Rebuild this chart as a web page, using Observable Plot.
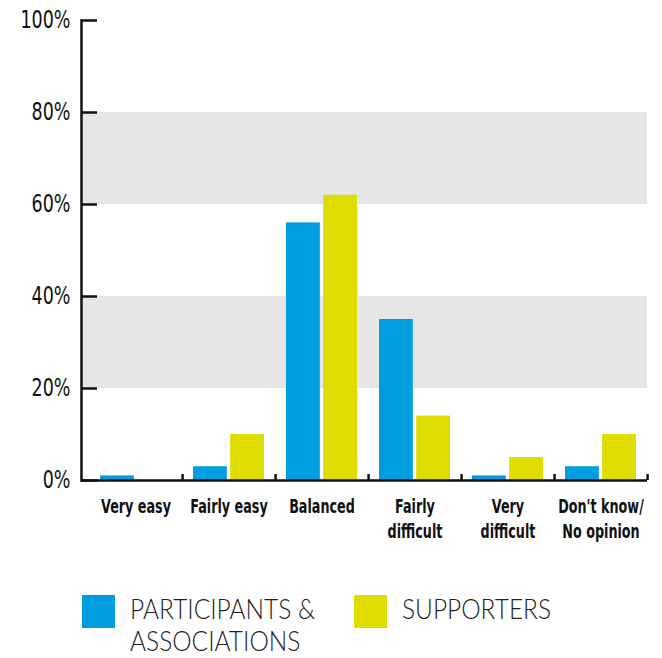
<!DOCTYPE html>
<html>
<head>
<meta charset="utf-8">
<script src="https://cdn.jsdelivr.net/npm/d3@7"></script>
<script src="https://cdn.jsdelivr.net/npm/@observablehq/plot@0.6"></script>
<style>
  html, body { margin: 0; padding: 0; background: #fff; }
  #chart { width: 662px; height: 555px; }
  .legend { position: relative; width: 662px; height: 103px; font-family: Lato, "DejaVu Sans", sans-serif; color: #222; overflow: hidden; }
  .item { position: absolute; top: 38px; display: flex; align-items: flex-start; }
  .sw { width: 33px; height: 33px; flex: none; margin-top: 2px; }
  .lbl { margin-left: 15px; font-size: 27px; line-height: 32px; height: 62px; font-weight: 300; white-space: pre; transform-origin: 0 0; }
</style>
</head>
<body>
<div id="chart"></div>
<script>
const categories = ["Very easy", "Fairly easy", "Balanced", "Fairly difficult", "Very difficult", "Don't know/No opinion"];
const categoryLabels = ["Very easy", "Fairly easy", "Balanced", "Fairly\ndifficult", "Very\ndifficult", "Don't know/\nNo opinion"];
const seriesNames = ["PARTICIPANTS & ASSOCIATIONS", "SUPPORTERS"];
const seriesLabels = ["PARTICIPANTS &\nASSOCIATIONS", "SUPPORTERS"];
const seriesColors = ["#009ddf", "#dfdc00"];
const participants = [1, 3, 56, 35, 1, 3];
const supporters = [0, 10, 62, 14, 5, 10];
const yTicks = [0, 20, 40, 60, 80, 100];
const bands = [{y1: 20, y2: 40}, {y1: 60, y2: 80}];

const pData = categories.map((c, i) => ({cat: c, value: participants[i]}));
const sData = categories.map((c, i) => ({cat: c, value: supporters[i]}));
const labelOf = new Map(categories.map((c, i) => [c, categoryLabels[i]]));

const W = 662, H = 555;
const bandW = (647 - 88) / categories.length;
const outer = 11, barW = 34;
const font = "'DejaVu Sans Condensed', 'DejaVu Sans', sans-serif";

const chart = Plot.plot({
  width: W,
  height: H,
  marginLeft: 81,
  marginRight: 15,
  marginTop: 20,
  marginBottom: H - 480,
  style: {fontFamily: font, color: "#111", background: "#fff"},
  x: {domain: categories, range: [88, 647], padding: 0, axis: null},
  y: {domain: [0, 100], axis: null},
  marks: [
    Plot.rectY(bands, {y1: "y1", y2: "y2", fill: "#e6e6e6"}),
    Plot.barY(pData, {x: "cat", y: "value", fill: seriesColors[0], insetLeft: outer, insetRight: bandW - outer - barW}),
    Plot.barY(sData, {x: "cat", y: "value", fill: seriesColors[1], insetLeft: bandW - outer - barW, insetRight: outer}),
    Plot.ruleY([0], {stroke: "#111", strokeWidth: 2.5}),
    Plot.frame({anchor: "left", stroke: "#111", strokeWidth: 2.5}),
    Plot.axisY({ticks: yTicks, tickSize: 16, dx: 16, tickFormat: () => "", stroke: "#111", strokeWidth: 2.5}),
    Plot.axisY({ticks: yTicks, tickSize: 0, tickPadding: 11, tickFormat: d => d + "%", fontSize: 24.7, fill: "#111", label: null}),
    Plot.axisX({ticks: categories, tickSize: 6, dy: -6, dx: bandW / 2, tickFormat: () => "", stroke: "#111", strokeWidth: 2.5, label: null}),
    Plot.axisX({ticks: categories, tickSize: 0, tickPadding: 15, tickFormat: d => labelOf.get(d), fontSize: 19, fontWeight: "bold", lineHeight: 1.32, fill: "#111", label: null})
  ]
});
document.getElementById("chart").appendChild(chart);

// Condense text horizontally to mimic a condensed typeface
function condense(selector, refText, targetWidth) {
  const texts = Array.from(chart.querySelectorAll(selector));
  const ref = texts.find(t => t.textContent === refText);
  if (!ref) return;
  const w = ref.getBBox().width;
  if (!w) return;
  const s = targetWidth / w;
  texts.forEach(t => {
    let tr = t.getAttribute("transform");
    if (!tr) {
      const x = t.getAttribute("x") || 0, y = t.getAttribute("y") || 0;
      t.removeAttribute("x"); t.removeAttribute("y");
      tr = `translate(${x},${y})`;
    }
    t.setAttribute("transform", tr + ` scale(${s},1)`);
  });
}
condense('g[aria-label="y-axis tick label"] text', "100%", 50);
condense('g[aria-label="x-axis tick label"] text', "Very easy", 70);

const legend = document.createElement("div");
legend.className = "legend";
const lefts = [82, 354];
seriesNames.forEach((name, i) => {
  const item = document.createElement("div");
  item.className = "item";
  item.style.left = lefts[i] + "px";
  item.title = name;
  const sw = document.createElement("div");
  sw.className = "sw";
  sw.style.background = seriesColors[i];
  const lbl = document.createElement("div");
  lbl.className = "lbl";
  lbl.textContent = seriesLabels[i];
  item.appendChild(sw);
  item.appendChild(lbl);
  legend.appendChild(item);
});
document.body.appendChild(legend);

// fit legend text width to reference proportions
const probe = document.createElement("span");
probe.style.cssText = "position:absolute;visibility:hidden;white-space:pre;font:300 27px Lato, 'DejaVu Sans', sans-serif";
probe.textContent = "PARTICIPANTS &";
document.body.appendChild(probe);
const ls = 185 / probe.getBoundingClientRect().width;
probe.remove();
legend.querySelectorAll(".lbl").forEach(l => { l.style.transform = `scaleX(${ls})`; });
</script>
</body>
</html>
